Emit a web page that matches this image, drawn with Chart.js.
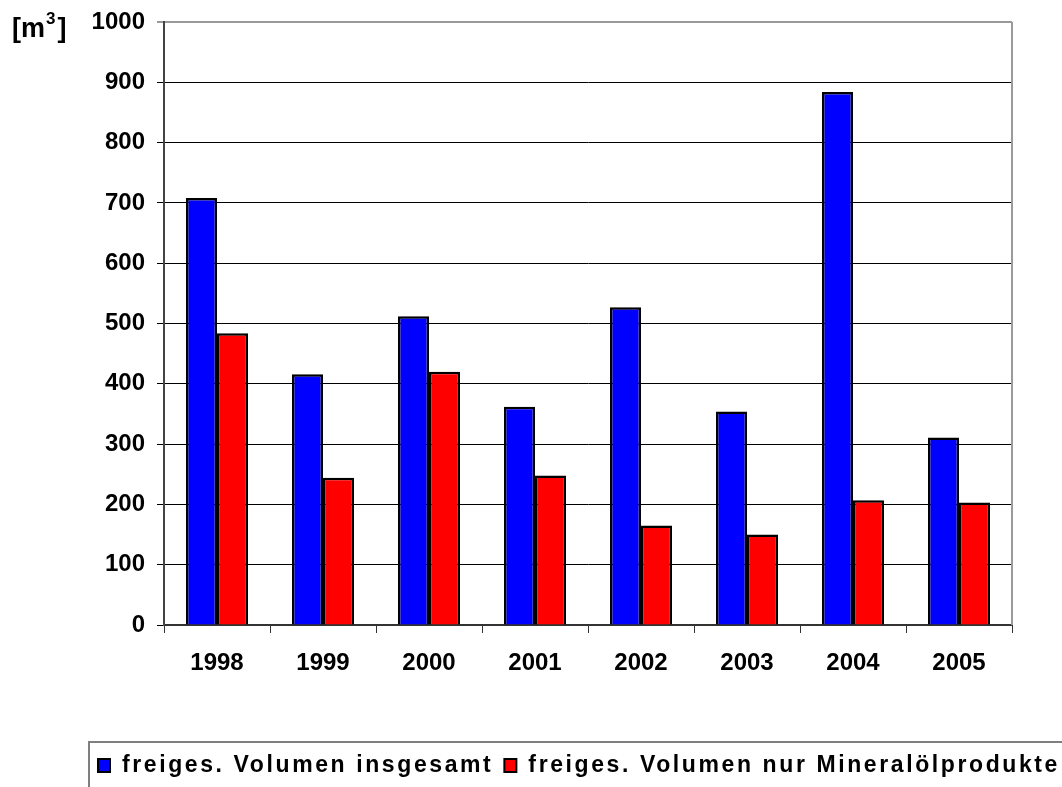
<!DOCTYPE html>
<html>
<head>
<meta charset="utf-8">
<script src="https://cdn.jsdelivr.net/npm/chart.js@4.4.0/dist/chart.umd.min.js"></script>
<style>
  html, body { margin: 0; padding: 0; background: #fff; }
  #wrap { width: 1062px; height: 787px; position: relative; }
</style>
</head>
<body>
<div id="wrap"><canvas id="myChart" width="1062" height="787"></canvas></div>
<script>
// data
var years = ["1998", "1999", "2000", "2001", "2002", "2003", "2004", "2005"];
var totalVolume = [708, 416, 512, 362, 527, 354, 884, 311];
var oilVolume = [484, 244, 420, 248, 165, 150, 207, 203];
var seriesNames = ["freiges. Volumen insgesamt", "freiges. Volumen nur Mineralölprodukte"];
var yTicks = [0, 100, 200, 300, 400, 500, 600, 700, 800, 900, 1000];

var FONT = "Arial, 'Liberation Sans', sans-serif";

// unit label top left, right border and the legend box
var extras = {
    id: "extras",
    afterDraw: function(chart) {
        var ctx = chart.ctx;
        var area = chart.chartArea;
        ctx.save();

        // right border of the plot
        ctx.strokeStyle = "#9a9a9a";
        ctx.lineWidth = 2;
        ctx.beginPath();
        ctx.moveTo(area.right, area.top);
        ctx.lineTo(area.right, area.bottom);
        ctx.stroke();

        // [m3]
        ctx.fillStyle = "#000";
        ctx.textBaseline = "alphabetic";
        ctx.font = "bold 27px " + FONT;
        var x = 12, base = 37;
        ctx.fillText("[m", x, base);
        x += ctx.measureText("[m").width;
        ctx.font = "bold 17px " + FONT;
        ctx.fillText("3", x + 1, base - 13);
        x += ctx.measureText("3").width + 3;
        ctx.font = "bold 27px " + FONT;
        ctx.fillText("]", x, base);

        // legend
        ctx.strokeStyle = "#7f7f7f";
        ctx.lineWidth = 2;
        ctx.strokeRect(89, 742, 1000, 80);
        ctx.font = "bold 23px " + FONT;
        ctx.letterSpacing = "2.6px";
        var lx = 98;
        chart.data.datasets.forEach(function(ds) {
            ctx.fillStyle = ds.backgroundColor;
            ctx.fillRect(lx, 759, 12, 13);
            ctx.strokeStyle = "#000";
            ctx.lineWidth = 2;
            ctx.strokeRect(lx, 759, 12, 13);
            ctx.fillStyle = "#000";
            ctx.fillText(ds.label, lx + 24, 772);
            lx += 24 + ctx.measureText(ds.label).width + 11;
        });
        ctx.restore();
    }
};

var ctx = document.getElementById("myChart").getContext("2d");
var myChart = new Chart(ctx, {
    type: "bar",
    data: {
        labels: years,
        datasets: [
            {
                label: seriesNames[0],
                data: totalVolume,
                backgroundColor: "#0000ff",
                borderColor: "#000",
                borderWidth: 2.5
            },
            {
                label: seriesNames[1],
                data: oilVolume,
                backgroundColor: "#ff0000",
                borderColor: "#000",
                borderWidth: 2.5
            }
        ]
    },
    options: {
        responsive: false,
        animation: false,
        devicePixelRatio: 1,
        categoryPercentage: 0.585,
        barPercentage: 1.0,
        layout: { padding: { left: 0, right: 50, top: 22, bottom: 46 } },
        plugins: {
            legend: { display: false },
            tooltip: { enabled: false }
        },
        scales: {
            x: {
                offset: true,
                grid: {
                    offset: true,
                    drawOnChartArea: false,
                    drawTicks: true,
                    tickLength: 8,
                    color: "#333"
                },
                border: { color: "#333", width: 2 },
                ticks: {
                    color: "#000",
                    padding: 16,
                    font: { family: FONT, size: 24, weight: "bold" },
                    maxRotation: 0
                },
                afterFit: function(scale) { scale.height = 116; }
            },
            y: {
                min: 0,
                max: 1000,
                afterBuildTicks: function(scale) {
                    scale.ticks = yTicks.map(function(v) { return { value: v }; });
                },
                grid: {
                    color: function(c) { return c.tick && c.tick.value === 1000 ? "#9a9a9a" : "#000"; },
                    lineWidth: function(c) { return c.tick && c.tick.value === 1000 ? 2 : 1; },
                    tickLength: 7
                },
                border: { color: "#444", width: 2 },
                ticks: {
                    color: "#000",
                    padding: 12,
                    font: { family: FONT, size: 24, weight: "bold" },
                    callback: function(v) { return String(v); }
                },
                afterFit: function(scale) {
                    scale.width = 164;
                    scale.paddingTop = 0;
                    scale.paddingBottom = 0;
                }
            }
        }
    },
    plugins: [extras]
});
</script>
</body>
</html>
